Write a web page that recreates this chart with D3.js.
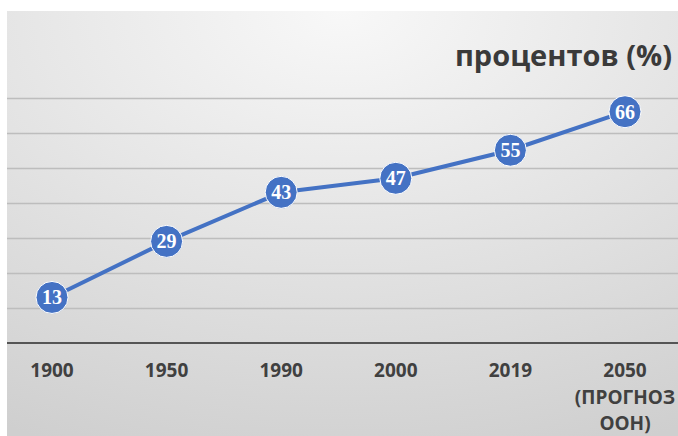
<!DOCTYPE html>
<html lang="ru">
<head>
    <meta charset="utf-8">
    <title>Городское население</title>
    <script src="https://d3js.org/d3.v7.min.js"></script>
    <style>
        body { margin: 0; background: #fff; }
    </style>
</head>
<body>
<div id="chart"></div>
<script>
    // Data
    const years = ["1900", "1950", "1990", "2000", "2019", "2050"];
    const yearLabels = [["1900"], ["1950"], ["1990"], ["2000"], ["2019"], ["2050", "(ПРОГНОЗ", "ООН)"]];
    const percent = [13, 29, 43, 47, 55, 66];
    const yTicks = [0, 10, 20, 30, 40, 50, 60, 70];
    const title = "процентов (%)";

    const W = 678, H = 436;
    const svg = d3.select("#chart").append("svg")
        .attr("width", W).attr("height", H);

    // Background gradient
    const defs = svg.append("defs");
    const grad = defs.append("radialGradient")
        .attr("id", "bg").attr("cx", "50%").attr("cy", "0%").attr("r", "110%");
    grad.append("stop").attr("offset", "0%").attr("stop-color", "#f8f8f8");
    grad.append("stop").attr("offset", "100%").attr("stop-color", "#cfcfcf");

    svg.append("rect")
        .attr("x", 7).attr("y", 11)
        .attr("width", W - 7).attr("height", H - 11)
        .attr("fill", "url(#bg)");

    // Scales
    const x = d3.scalePoint().domain(years).range([52, 625]);
    const y = d3.scaleLinear().domain([0, 70]).range([343, 97.7]);

    // Gridlines
    svg.append("g")
        .selectAll("line")
        .data(yTicks.slice(1))
        .join("line")
        .attr("x1", 7).attr("x2", W)
        .attr("y1", d => Math.round(y(d)) + 0.5)
        .attr("y2", d => Math.round(y(d)) + 0.5)
        .attr("stroke", "#bdbdbd")
        .attr("stroke-width", 1.3);

    // X axis line
    svg.append("line")
        .attr("x1", 7).attr("x2", W)
        .attr("y1", y(0)).attr("y2", y(0))
        .attr("stroke", "#555555")
        .attr("stroke-width", 2.2);

    // X labels
    const xl = svg.append("g")
        .attr("font-family", "'Open Sans', sans-serif")
        .attr("font-weight", "bold")
        .attr("font-size", 19)
        .attr("fill", "#404040")
        .attr("text-anchor", "middle");
    years.forEach((yr, i) => {
        const t = xl.append("text").attr("x", x(yr)).attr("y", 377);
        yearLabels[i].forEach((line, j) => {
            t.append("tspan").attr("x", x(yr)).attr("dy", j === 0 ? 0 : 26.5).text(line);
        });
    });

    // Line
    const data = years.map((yr, i) => ({year: yr, value: percent[i]}));
    svg.append("path")
        .datum(data)
        .attr("fill", "none")
        .attr("stroke", "#4472c4")
        .attr("stroke-width", 4)
        .attr("stroke-linejoin", "round")
        .attr("d", d3.line().x(d => x(d.year)).y(d => y(d.value)));

    // Markers
    svg.append("g")
        .selectAll("circle")
        .data(data)
        .join("circle")
        .attr("cx", d => x(d.year))
        .attr("cy", d => y(d.value))
        .attr("r", 16)
        .attr("fill", "#4472c4")
        .attr("stroke", "#ffffff")
        .attr("stroke-width", 1);

    // Value labels
    svg.append("g")
        .selectAll("text")
        .data(data)
        .join("text")
        .attr("x", d => x(d.year))
        .attr("y", d => y(d.value) + 7)
        .attr("text-anchor", "middle")
        .attr("font-family", "'Liberation Serif', 'Times New Roman', serif")
        .attr("font-weight", "bold")
        .attr("font-size", 20)
        .attr("fill", "#ffffff")
        .text(d => d.value);

    // Title (right part)
    svg.append("text")
        .attr("x", 672).attr("y", 66)
        .attr("text-anchor", "end")
        .attr("font-family", "'Open Sans', sans-serif")
        .attr("font-weight", "bold")
        .attr("font-size", 29)
        .attr("fill", "#3a3a3a")
        .text(title);
</script>
</body>
</html>
